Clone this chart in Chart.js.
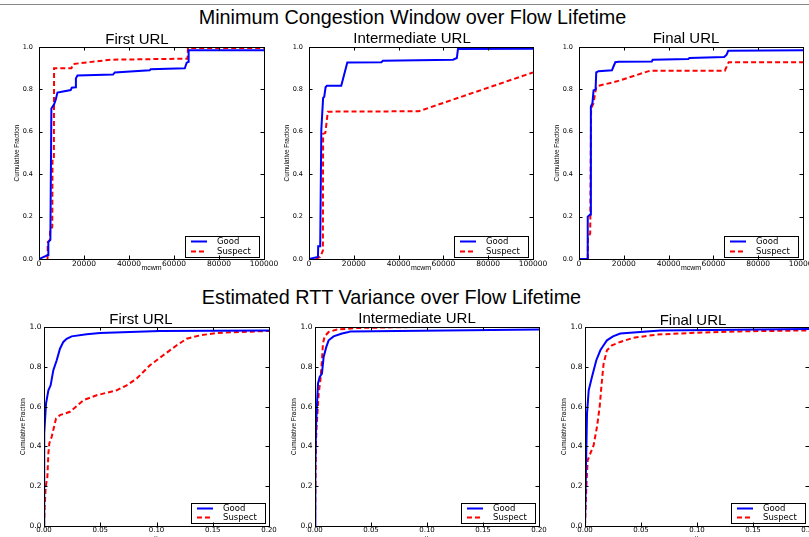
<!DOCTYPE html>
<html>
<head>
<meta charset="utf-8">
<script src="https://cdn.jsdelivr.net/npm/chart.js@4/dist/chart.umd.min.js"></script>
<style>
  html, body { margin: 0; padding: 0; background: #fff; }
  #page { position: relative; width: 809px; height: 537px; overflow: hidden; background: #fff; }
  .sup { position: absolute; left: 0; width: 809px; text-align: center; font-family: "Liberation Sans", Arial, sans-serif; font-size: 19.8px; line-height: 20px; color: #000; white-space: nowrap; }
  .sub { position: absolute; width: 200px; text-align: center; font-family: "Liberation Sans", Arial, sans-serif; font-size: 15px; line-height: 15px; color: #000; white-space: nowrap; }
  .topline { position: absolute; left: 0; top: 4px; width: 809px; height: 1px; background: #888; }
  canvas { position: absolute; }
</style>
</head>
<body>
<div id="page">
  <div class="topline"></div>
  <div class="sup" style="top:7px; left:8px;">Minimum Congestion Window over Flow Lifetime</div>
  <div class="sup" style="top:287px; left:-13px;">Estimated RTT Variance over Flow Lifetime</div>
</div>
<script>
// ---------------- data ----------------
const seriesNames = ['Good', 'Suspect'];
const panelTitles = ['First URL', 'Intermediate URL', 'Final URL'];
const rowTitles = ['Minimum Congestion Window over Flow Lifetime', 'Estimated RTT Variance over Flow Lifetime'];
const xLabels = ['mcwm', 'rttv'];
const yLabel = 'Cumulative Fraction';

const mcwmTickValues = [0, 20000, 40000, 60000, 80000, 100000];
const mcwmTickLabels = ['0', '20000', '40000', '60000', '80000', '100000'];
const rttvTickValues = [0, 0.05, 0.10, 0.15, 0.20];
const rttvTickLabels = ['0.00', '0.05', '0.10', '0.15', '0.20'];
const yTickValues = [0, 0.2, 0.4, 0.6, 0.8, 1.0];
const yTickLabels = ['0.0', '0.2', '0.4', '0.6', '0.8', '1.0'];

// Minimum congestion window CDFs [mcwm, fraction]
const mcwmFirstGood = [[0,0],[4000,0.019],[4150,0.08],[5050,0.09],[5500,0.71],[6700,0.73],[7400,0.75],[8200,0.785],[10700,0.79],[14100,0.797],[14550,0.808],[16300,0.81],[16400,0.852],[17100,0.866],[32900,0.87],[33700,0.88],[49200,0.89],[49600,0.895],[64800,0.90],[65600,0.925],[66400,0.93],[66500,0.985],[100000,0.985]];
const mcwmFirstSuspect = [[3800,0],[3900,0.08],[4800,0.09],[5000,0.14],[5900,0.15],[6000,0.47],[6600,0.47],[6700,0.90],[14400,0.90],[15300,0.92],[31800,0.94],[65000,0.945],[66000,0.945],[66200,0.995],[100000,0.995]];
const mcwmInterGood = [[0,0],[4000,0.01],[4100,0.06],[5000,0.06],[5500,0.61],[6300,0.76],[6800,0.765],[7400,0.81],[8000,0.817],[14400,0.817],[17100,0.927],[32300,0.928],[33000,0.935],[64300,0.94],[66000,0.948],[66500,0.99],[100000,0.992]];
const mcwmInterSuspect = [[3000,0],[5000,0.01],[6200,0.04],[6300,0.59],[7300,0.595],[8400,0.695],[49000,0.697],[100000,0.88]];
const mcwmFinalGood = [[0,0],[3600,0],[3900,0.2],[5000,0.21],[5300,0.72],[6000,0.735],[6500,0.795],[7400,0.80],[7700,0.88],[8700,0.886],[14700,0.89],[15400,0.908],[16200,0.928],[17700,0.93],[32500,0.932],[32900,0.94],[48800,0.943],[49300,0.948],[64800,0.953],[65900,0.964],[66600,0.982],[100000,0.985]];
const mcwmFinalSuspect = [[3900,0],[4000,0.10],[5000,0.12],[5400,0.71],[6500,0.735],[7000,0.77],[7700,0.81],[8700,0.817],[16900,0.838],[31700,0.888],[65100,0.888],[66800,0.928],[100000,0.928]];

// Estimated RTT variance CDFs [rttv, fraction]
const rttvFirstGood = [[0,0],[0.0001,0.30],[0.0003,0.465],[0.0018,0.615],[0.0039,0.682],[0.0059,0.707],[0.0083,0.783],[0.0113,0.833],[0.0142,0.891],[0.0172,0.925],[0.0201,0.941],[0.0246,0.953],[0.0379,0.963],[0.0498,0.970],[0.103,0.98],[0.2,0.983]];
const rttvFirstSuspect = [[0,0],[0.0006,0.097],[0.0015,0.197],[0.003,0.247],[0.0039,0.365],[0.0047,0.415],[0.0068,0.448],[0.0089,0.498],[0.0107,0.54],[0.0142,0.557],[0.0231,0.574],[0.035,0.632],[0.0468,0.657],[0.0646,0.682],[0.0735,0.707],[0.0824,0.741],[0.0942,0.808],[0.106,0.858],[0.118,0.908],[0.1268,0.941],[0.1387,0.958],[0.1535,0.970],[0.174,0.975],[0.2,0.98]];
const rttvInterGood = [[0,0],[0.0003,0.298],[0.0009,0.498],[0.0018,0.615],[0.0027,0.716],[0.0042,0.749],[0.0062,0.766],[0.0077,0.849],[0.0101,0.9],[0.0122,0.933],[0.0166,0.953],[0.0241,0.967],[0.030,0.975],[0.0315,0.978],[0.2,0.987]];
const rttvInterSuspect = [[0,0],[0.0003,0.164],[0.0009,0.431],[0.0018,0.532],[0.0033,0.666],[0.0048,0.732],[0.0062,0.833],[0.0071,0.916],[0.0086,0.953],[0.0122,0.975],[0.0196,0.987],[0.0374,0.995],[0.088,1.0]];
const rttvFinalGood = [[0,0],[0.0009,0.298],[0.0018,0.565],[0.0033,0.682],[0.0062,0.749],[0.0101,0.833],[0.0137,0.883],[0.0166,0.908],[0.0196,0.933],[0.025,0.953],[0.0315,0.967],[0.0493,0.975],[0.0672,0.983],[0.2,0.99]];
const rttvFinalSuspect = [[0,0],[0.0012,0.197],[0.0024,0.331],[0.0048,0.365],[0.0077,0.406],[0.0107,0.498],[0.0131,0.599],[0.0146,0.699],[0.0166,0.816],[0.0196,0.883],[0.0241,0.908],[0.0315,0.925],[0.0434,0.946],[0.0642,0.962],[0.094,0.970],[0.1385,0.978],[0.2,0.983]];

// ---------------- plugins ----------------
const frameTicks = {
  id: 'frameTicks',
  afterDraw(chart) {
    const {ctx, chartArea: a, scales: {x, y}} = chart;
    ctx.save();
    ctx.strokeStyle = '#000';
    ctx.lineWidth = 1;
    ctx.setLineDash([]);
    const L = 3.5;
    ctx.beginPath();
    x.ticks.forEach(t => {
      const px = Math.round(x.getPixelForValue(t.value)) + 0.5;
      ctx.moveTo(px, a.bottom); ctx.lineTo(px, a.bottom - L);
      ctx.moveTo(px, a.top); ctx.lineTo(px, a.top + L);
    });
    y.ticks.forEach(t => {
      const py = Math.round(y.getPixelForValue(t.value)) + 0.5;
      ctx.moveTo(a.left, py); ctx.lineTo(a.left + L, py);
      ctx.moveTo(a.right, py); ctx.lineTo(a.right - L, py);
    });
    ctx.stroke();
    ctx.strokeRect(Math.round(a.left) + 0.5, Math.round(a.top) + 0.5, Math.round(a.right - a.left), Math.round(a.bottom - a.top));
    ctx.restore();
  }
};

const insideLegend = {
  id: 'insideLegend',
  afterDatasetsDraw(chart, args, o) {
    const {ctx, chartArea: a} = chart;
    const w = 74, h = o.h;
    const bx = Math.round(a.right - o.mr - w), by = Math.round(a.bottom - o.mb - h);
    ctx.save();
    ctx.fillStyle = '#fff';
    ctx.fillRect(bx, by, w, h);
    ctx.strokeStyle = '#000';
    ctx.lineWidth = 1;
    ctx.strokeRect(bx + 0.5, by + 0.5, w, h);
    chart.data.datasets.forEach((ds, i) => {
      const ly = by + o.row0 + i * o.gap;
      ctx.strokeStyle = ds.borderColor;
      ctx.lineWidth = 2;
      ctx.setLineDash(ds.borderDash || []);
      ctx.beginPath(); ctx.moveTo(bx + 6, ly); ctx.lineTo(bx + 22, ly); ctx.stroke();
      ctx.setLineDash([]);
      ctx.fillStyle = '#000';
      ctx.font = '8.5px "DejaVu Sans"';
      ctx.textBaseline = 'middle';
      ctx.textAlign = 'left';
      ctx.fillText(ds.label, bx + 32, ly);
    });
    ctx.restore();
  }
};

// ---------------- builder ----------------
const page = document.getElementById('page');
const YW = 40, PT = 6, PR = 24;

function addSub(text, cx, top) {
  const d = document.createElement('div');
  d.className = 'sub';
  d.textContent = text;
  d.style.left = (cx - 100) + 'px';
  d.style.top = top + 'px';
  page.appendChild(d);
}

function makePanel(p) {
  const plotW = p.right - p.left, plotH = p.bottom - p.top;
  const cv = document.createElement('canvas');
  const W = plotW + YW + PR, H = PT + plotH + p.xh;
  cv.width = W; cv.height = H;
  cv.style.left = (p.left - YW) + 'px';
  cv.style.top = (p.top - PT) + 'px';
  cv.style.width = W + 'px'; cv.style.height = H + 'px';
  page.appendChild(cv);
  const toPts = arr => arr.map(([x, y]) => ({x, y}));
  new Chart(cv, {
    type: 'line',
    data: {
      datasets: [
        { label: seriesNames[0], data: toPts(p.good), borderColor: '#0000ff', borderWidth: 2, pointRadius: 0, tension: 0, fill: false },
        { label: seriesNames[1], data: toPts(p.suspect), borderColor: '#ff0000', borderWidth: 2, borderDash: [5, 3], pointRadius: 0, tension: 0, fill: false }
      ]
    },
    options: {
      responsive: false,
      animation: false,
      devicePixelRatio: 1,
      layout: { padding: { top: PT, right: PR, left: 0, bottom: 0 } },
      plugins: {
        legend: { display: false },
        tooltip: { enabled: false },
        title: { display: false },
        insideLegend: p.legend
      },
      scales: {
        x: {
          type: 'linear',
          min: p.xTickValues[0],
          max: p.xTickValues[p.xTickValues.length - 1],
          afterBuildTicks: s => { s.ticks = p.xTickValues.map(v => ({value: v})); },
          afterFit: s => { s.height = p.xh; s.paddingLeft = 0; s.paddingRight = 0; },
          grid: { display: false, drawTicks: false },
          border: { display: false },
          ticks: {
            autoSkip: false, maxRotation: 0, padding: p.xpad, color: '#000',
            font: { family: 'DejaVu Sans', size: p.xfont },
            callback: (v, i) => p.xTickLabels[i]
          },
          title: { display: true, text: p.xLabel, color: '#000', font: { family: 'Liberation Sans', size: 7 }, padding: { top: 0, bottom: p.xtpad } }
        },
        y: {
          type: 'linear',
          min: 0, max: 1,
          afterBuildTicks: s => { s.ticks = yTickValues.map(v => ({value: v})); },
          afterFit: s => { s.width = YW; s.paddingTop = 0; s.paddingBottom = 0; },
          grid: { display: false, drawTicks: false },
          border: { display: false },
          ticks: {
            autoSkip: false, padding: p.ypad, color: '#000',
            font: { family: 'DejaVu Sans', size: p.yfont },
            callback: (v, i) => yTickLabels[i]
          },
          title: { display: true, text: yLabel, color: '#000', font: { family: 'Liberation Sans', size: 6.4 }, padding: { top: p.ytpad, bottom: 0 } }
        }
      }
    },
    plugins: [frameTicks, insideLegend]
  });
}

const topLegend = { h: 21, mr: 5, mb: 2.5, row0: 5.5, gap: 10 };
const botLegend = { h: 20, mr: 4, mb: 3, row0: 5.5, gap: 9 };

const topRow = [
  { left: 39, right: 264, good: mcwmFirstGood, suspect: mcwmFirstSuspect, tcx: 137, tt: 31 },
  { left: 309, right: 533, good: mcwmInterGood, suspect: mcwmInterSuspect, tcx: 412, tt: 29.5 },
  { left: 579, right: 803, good: mcwmFinalGood, suspect: mcwmFinalSuspect, tcx: 686, tt: 30 }
];
topRow.forEach((c, i) => {
  makePanel(Object.assign({}, c, {
    top: 47, bottom: 259, xh: 14, xpad: 1, xtpad: 0.8, xfont: 7.5, yfont: 6.5, ypad: 6, ytpad: 14.3,
    xTickValues: mcwmTickValues, xTickLabels: mcwmTickLabels, xLabel: xLabels[0], legend: topLegend
  }));
  addSub(panelTitles[i], c.tcx, c.tt);
});

const botRow = [
  { left: 44, right: 269, good: rttvFirstGood, suspect: rttvFirstSuspect, tcx: 141, tt: 311 },
  { left: 315, right: 539, good: rttvInterGood, suspect: rttvInterSuspect, tcx: 417, tt: 310 },
  { left: 585, right: 809, good: rttvFinalGood, suspect: rttvFinalSuspect, tcx: 693, tt: 311.5 }
];
botRow.forEach((c, i) => {
  makePanel(Object.assign({}, c, {
    top: 327, bottom: 526, xh: 18, xpad: 0, xtpad: 0.8, xfont: 7, yfont: 7.5, ypad: 2.5, ytpad: 15,
    xTickValues: rttvTickValues, xTickLabels: rttvTickLabels, xLabel: xLabels[1], legend: botLegend
  }));
  addSub(panelTitles[i], c.tcx, c.tt);
});
</script>
</body>
</html>
